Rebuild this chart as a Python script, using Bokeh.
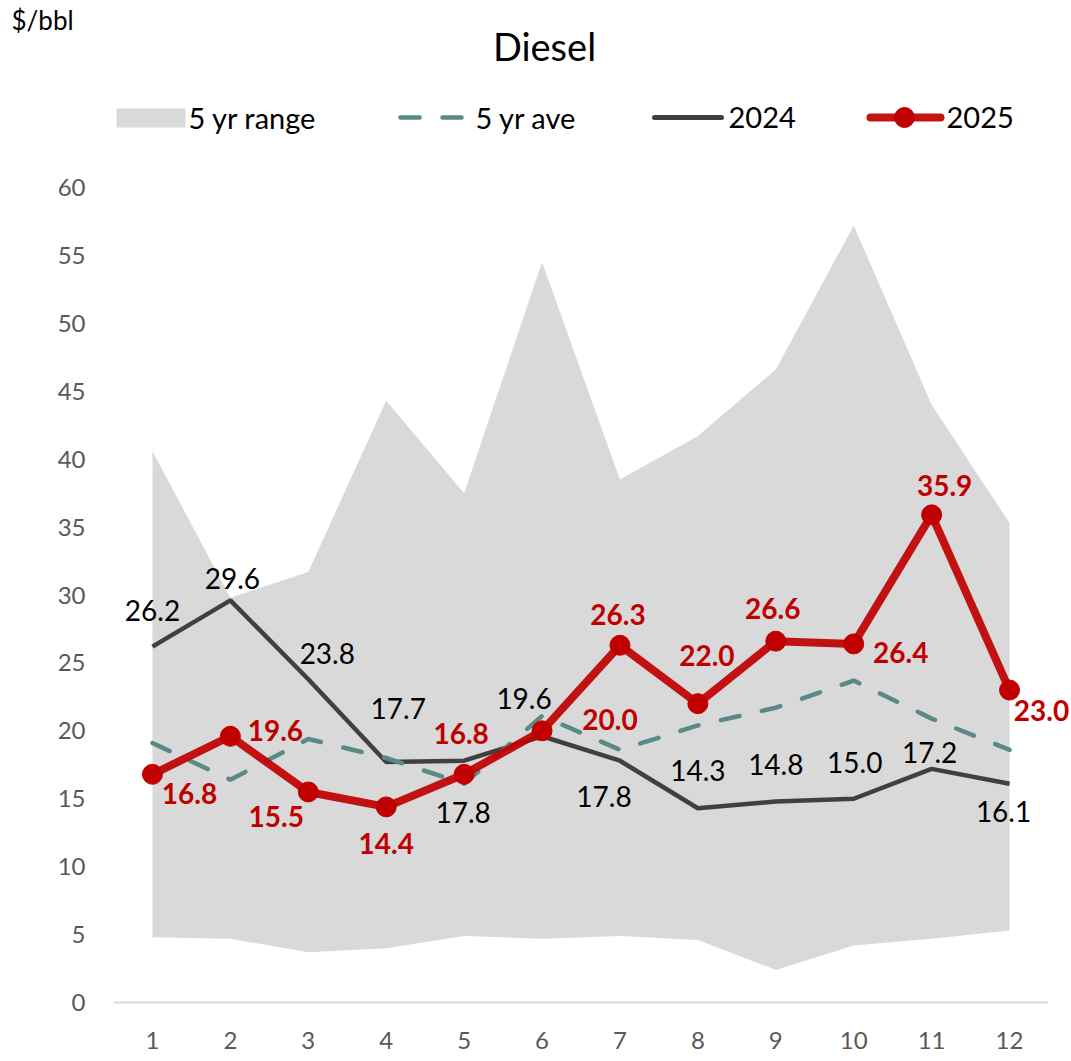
from bokeh.plotting import figure
from bokeh.models import ColumnDataSource, Range1d, FixedTicker
from bokeh.core.properties import value
from bokeh.embed import file_html
from bokeh.resources import INLINE

# ---- data ----
months = [1, 2, 3, 4, 5, 6, 7, 8, 9, 10, 11, 12]
range_low = [4.8, 4.7, 3.7, 4.0, 4.9, 4.7, 4.9, 4.6, 2.4, 4.2, 4.7, 5.3]
range_high = [40.6, 29.8, 31.7, 44.3, 37.5, 54.5, 38.5, 41.7, 46.6, 57.2, 44.0, 35.3]
avg5 = [19.1, 16.4, 19.4, 18.0, 16.1, 21.1, 18.6, 20.4, 21.7, 23.7, 20.9, 18.6]
y2024 = [26.2, 29.6, 23.8, 17.7, 17.8, 19.6, 17.8, 14.3, 14.8, 15.0, 17.2, 16.1]
y2025 = [16.8, 19.6, 15.5, 14.4, 16.8, 20.0, 26.3, 22.0, 26.6, 26.4, 35.9, 23.0]
y_ticks = [0, 5, 10, 15, 20, 25, 30, 35, 40, 45, 50, 55, 60]
x_extent = [0.5, 12.5]

# label placement offsets (pixels, from each point)
off2024_x = [0, 2, 19, 12, -1, -18, -16, 0, 0, 1, -2, -6]
off2024_y = [-36, -22, -26, -54, 52, -38, 36, -38, -37, -36, -16, 28]
off2025_x = [37, 45, -32, 0, -3, 68, -2, 9, -3, 47, 13, 32]
off2025_y = [19, -6, 25, 37, -41, -11, -31, -48, -33, 9, -29, 20]

FONT = "Lato"
W, H = 1071, 1061
AX_L, AX_R = 113, 1048       # pixel extent of the x axis line (months 0.5 .. 12.5)
AX_B, AX_T = 1002, 187       # pixel positions of y = 0 and y = 60
FRAME_B = 1020
PX_X = (AX_R - AX_L) / 12.0
PX_Y = (AX_B - AX_T) / 60.0

def dx(px):
    return 0.5 + (px - AX_L) / PX_X

def dy(py):
    return (AX_B - py) / PX_Y

p = figure(width=W, height=H, output_backend="svg", toolbar_location=None,
           x_range=Range1d(dx(0), dx(W)), y_range=Range1d(dy(FRAME_B), dy(0)),
           min_border_left=0, min_border_right=0, min_border_top=0,
           min_border_bottom=H - FRAME_B)
p.outline_line_color = None
p.xgrid.visible = False
p.ygrid.visible = False
p.yaxis.visible = False

p.xaxis.ticker = FixedTicker(ticks=months)
p.xaxis.axis_line_color = None
p.xaxis.major_tick_line_color = None
p.xaxis.minor_tick_line_color = None
p.xaxis.major_tick_out = 0
p.xaxis.major_tick_in = 0
p.xaxis.major_label_standoff = 11
p.xaxis.major_label_text_font = FONT
p.xaxis.major_label_text_font_size = "24px"
p.xaxis.major_label_text_color = "#595959"

RANGE_C = "#D9D9D9"
AVE_C = "#5A8A87"
C24 = "#404040"
C25 = "#C00000"

# category axis baseline at y = 0
p.line(x=x_extent, y=[0, 0], line_color="#D9D9D9", line_width=2)

# y tick labels
p.text(x=[dx(85)] * len(y_ticks), y=y_ticks, text=[str(t) for t in y_ticks],
       text_font=value(FONT), text_font_size="24px", text_color="#595959",
       text_align="right", text_baseline="middle")

src = ColumnDataSource(dict(x=months, lo=range_low, hi=range_high, ave=avg5,
                            a=y2024, b=y2025,
                            ta=[f"{v:.1f}" for v in y2024],
                            tb=[f"{v:.1f}" for v in y2025],
                            oax=off2024_x, oay=off2024_y,
                            obx=off2025_x, oby=off2025_y))

p.varea(x="x", y1="lo", y2="hi", source=src, fill_color=RANGE_C)
p.line("x", "a", source=src, line_color=C24, line_width=4.5)
p.line("x", "ave", source=src, line_color=AVE_C, line_width=4.5,
       line_dash="19 23", line_cap="round")
p.line("x", "b", source=src, line_color=C25, line_alpha=0.92, line_width=8,
       line_join="round")
p.scatter("x", "b", source=src, size=20, fill_color=C25, line_color=C25)

p.text("x", "a", text="ta", source=src, x_offset="oax", y_offset="oay",
       text_font=value(FONT), text_font_size="28px", text_color="#000000",
       text_align="center", text_baseline="middle")
p.text("x", "b", text="tb", source=src, x_offset="obx", y_offset="oby",
       text_font=value(FONT), text_font_size="28px", text_color=C25,
       text_font_style="bold", text_align="center", text_baseline="middle")

# title and unit
p.text(x=[dx(544)], y=[dy(45)], text=["Diesel"], text_font=value(FONT),
       text_font_size="38px", text_color="#000000", text_align="center",
       text_baseline="middle")
p.text(x=[dx(11)], y=[dy(19)], text=["$/bbl"], text_font=value(FONT),
       text_font_size="26px", text_color="#000000", text_align="left",
       text_baseline="middle")

# legend
ly = dy(117)
p.quad(left=[dx(116)], right=[dx(185)], bottom=[dy(127)], top=[dy(108)],
       fill_color=RANGE_C, line_color=None)
p.line(x=[dx(400), dx(461)], y=[ly, ly], line_color=AVE_C, line_width=4.5,
       line_dash="19 23", line_cap="round")
p.line(x=[dx(654), dx(721)], y=[ly, ly], line_color=C24, line_width=5,
       line_cap="round")
p.line(x=[dx(870), dx(940)], y=[ly, ly], line_color=C25, line_alpha=0.92,
       line_width=8, line_cap="round")
p.scatter(x=[dx(904)], y=[ly], size=20, fill_color=C25, line_color=C25)
leg_x = [dx(188), dx(475), dx(728), dx(946)]
leg_t = ["5 yr range", "5 yr ave", "2024", "2025"]
p.text(x=leg_x, y=[ly] * 4, text=leg_t, text_font=value(FONT),
       text_font_size="29px", text_color="#000000", text_align="left",
       text_baseline="middle")

open("out.html", "w").write(file_html(p, INLINE))
